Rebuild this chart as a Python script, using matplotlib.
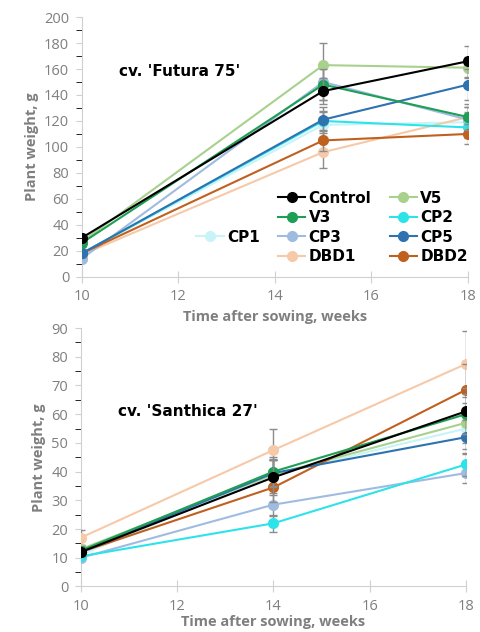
import matplotlib.pyplot as plt
from matplotlib.lines import Line2D

# Data
series = ["Control", "V5", "V3", "CP1", "CP2", "CP3", "CP5", "DBD1", "DBD2"]
colors = {
    "Control": "#000000", "V5": "#a9d18e", "V3": "#1f9e55", "CP1": "#c9f4f7",
    "CP2": "#2de3ea", "CP3": "#9fbce0", "CP5": "#2e72b0", "DBD1": "#f6c9a8",
    "DBD2": "#c0601e",
}

weeks_futura = [10, 15, 18]
futura = {
    "Control": [30, 143, 166],
    "V5": [27, 163, 161],
    "V3": [26, 148, 123],
    "CP1": [18, 117, 119],
    "CP2": [18, 120, 115],
    "CP3": [14, 150, 121],
    "CP5": [18, 121, 148],
    "DBD1": [17, 96, 123],
    "DBD2": [18, 105, 110],
}
futura_err = {
    "Control": [3, 10, 12],
    "V5": [3, 17, 8],
    "V3": [3, 12, 10],
    "CP1": [2, 10, 8],
    "CP2": [2, 8, 8],
    "CP3": [2, 14, 10],
    "CP5": [3, 10, 12],
    "DBD1": [2, 12, 8],
    "DBD2": [2, 8, 8],
}

weeks_santhica = [10, 14, 18]
santhica = {
    "Control": [12, 38, 61],
    "V5": [13, 39, 57],
    "V3": [12.5, 40, 60],
    "CP1": [11, 39, 55],
    "CP2": [10.5, 22, 42.5],
    "CP3": [10, 28.5, 39.5],
    "CP5": [12, 39.5, 52],
    "DBD1": [17, 47.5, 77.5],
    "DBD2": [12, 34.5, 68.5],
}
santhica_err = {
    "Control": [1.5, 6, 8],
    "V5": [1.5, 5, 7],
    "V3": [1.5, 5, 7],
    "CP1": [1, 5, 7],
    "CP2": [1, 3, 4],
    "CP3": [1, 4, 3.5],
    "CP5": [1.5, 5, 6],
    "DBD1": [2.5, 7.5, 11.5],
    "DBD2": [1.5, 5, 9],
}

draw_order = ["CP1", "DBD1", "CP3", "V5", "CP2", "DBD2", "CP5", "V3", "Control"]

plt.rcParams['font.family'] = ['Open Sans', 'DejaVu Sans']
gray = "#7f7f7f"

fig = plt.figure(figsize=(4.81, 6.32), dpi=100)
ax1 = fig.add_axes([0.170, 0.562, 0.803, 0.411])
ax2 = fig.add_axes([0.168, 0.072, 0.801, 0.409])


def draw_panel(ax, weeks, data, err, ymax, ystep, xpad):
    for i, name in enumerate(draw_order):
        ax.errorbar(weeks, data[name], yerr=err[name], color=colors[name],
                    ecolor="#8c8c8c", elinewidth=1.0, capsize=3, capthick=1.0,
                    marker="o", markersize=7, linewidth=1.5, zorder=3 + i)
    ax.set_xlim(10, 18)
    ax.set_ylim(0, ymax)
    ax.set_xticks([10, 12, 14, 16, 18])
    ax.set_yticks(range(0, ymax + 1, ystep))
    ax.set_yticks([v + ystep / 2 for v in range(0, ymax, ystep)], minor=True)
    for s in ["top", "right"]:
        ax.spines[s].set_visible(False)
    for s in ["left", "bottom"]:
        ax.spines[s].set_color("#d0d0d0")
    ax.tick_params(axis="both", colors="#d0d0d0", labelcolor=gray, labelsize=10.5)
    ax.tick_params(axis="x", direction="inout", length=8, pad=5)
    ax.tick_params(axis="y", which="both", direction="out", length=4, pad=5)
    ax.set_ylabel("Plant weight, g", color=gray, fontsize=10.5, fontweight="bold")
    ax.set_xlabel("Time after sowing, weeks", color=gray, fontsize=10.5,
                  fontweight="bold", labelpad=xpad)


draw_panel(ax1, weeks_futura, futura, futura_err, 200, 20, 4)
draw_panel(ax2, weeks_santhica, santhica, santhica_err, 90, 10, 1)

ax1.text(10.78, 158, "cv. 'Futura 75'", fontsize=11, fontweight="bold",
         family="DejaVu Sans", va="center")
ax2.text(10.78, 61, "cv. 'Santhica 27'", fontsize=11, fontweight="bold",
         family="DejaVu Sans", va="center")

# Legend laid out like the original
blank = Line2D([], [], alpha=0)
h = {n: Line2D([], [], color=colors[n], marker="o", markersize=7, linewidth=1.5)
     for n in series}
handles = [blank, blank, h["CP1"], blank,
           h["Control"], h["V3"], h["CP3"], h["DBD1"],
           h["V5"], h["CP2"], h["CP5"], h["DBD2"]]
labels = ["", "", "CP1", "",
          "Control", "V3", "CP3", "DBD1",
          "V5", "CP2", "CP5", "DBD2"]
ax1.legend(handles, labels, ncol=3, loc="lower right", bbox_to_anchor=(1.035, -0.005),
           frameon=False, prop={"family": "DejaVu Sans", "weight": "bold", "size": 11},
           handlelength=1.8, handletextpad=0.2, columnspacing=1.2, labelspacing=0.3)

fig.savefig("out.png", dpi=100)
